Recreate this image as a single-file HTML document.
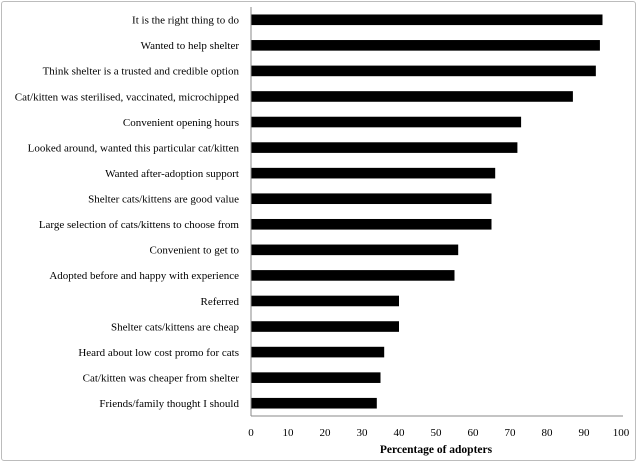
<!DOCTYPE html>
<html><head><meta charset="utf-8"><style>
body{margin:0;background:#fff}
#f{position:absolute;left:1px;top:1px;width:635px;height:460px;border:1px solid #bcbcbc;border-radius:3px;box-sizing:border-box}
svg{position:absolute;left:0;top:0;font-family:"Liberation Serif",serif}
</style></head><body>
<div id="f"></div>
<svg id="c" width="639" height="464"></svg>
<script>
const categories=["It is the right thing to do","Wanted to help shelter","Think shelter is a trusted and credible option","Cat/kitten was sterilised, vaccinated, microchipped","Convenient opening hours","Looked around, wanted this particular cat/kitten","Wanted after-adoption support","Shelter cats/kittens are good value","Large selection of cats/kittens to choose from","Convenient to get to","Adopted before and happy with experience","Referred","Shelter cats/kittens are cheap","Heard about low cost promo for cats","Cat/kitten was cheaper from shelter","Friends/family thought I should"];
const values=[95,94.3,93.2,87,73,72,66,65,65,56,55,40,40,36,35,34];
const ticks=[0,10,20,30,40,50,60,70,80,90,100];
const NS="http://www.w3.org/2000/svg",svg=document.getElementById('c');
const x0=251,x1=621,yTop=7,yBot=416;
const xs=v=>x0+(x1-x0)*v/100;
const band=(yBot-yTop)/categories.length;
const yc=i=>yTop+band*(i+0.5);
function mk(t,a,txt){const e=document.createElementNS(NS,t);for(const k in a)e.setAttribute(k,a[k]);if(txt!=null)e.textContent=txt;svg.appendChild(e);return e;}
categories.forEach((c,i)=>{
 const r=mk('rect',{x:xs(0),y:yc(i)-5.3,width:xs(values[i])-xs(0),height:10.6,fill:'#000'});
 
 
 const t=mk('text',{x:239,y:yc(i)+3.8,'text-anchor':'end','font-size':'11'},c);
 
 
});
const ax=mk('line',{x1:x0,y1:yTop,x2:x0,y2:yBot,stroke:'#888','stroke-width':1});


const bx=mk('line',{x1:x0,y1:yBot,x2:x1+2,y2:yBot,stroke:'#888','stroke-width':1});


ticks.forEach(v=>{
 const t=mk('text',{x:xs(v),y:436,'text-anchor':'middle','font-size':'11'},v);
 
 
});
const ti=mk('text',{x:436,y:453,'text-anchor':'middle','font-size':'11.5','font-weight':'bold'},'Percentage of adopters');


</script>
</body></html>
